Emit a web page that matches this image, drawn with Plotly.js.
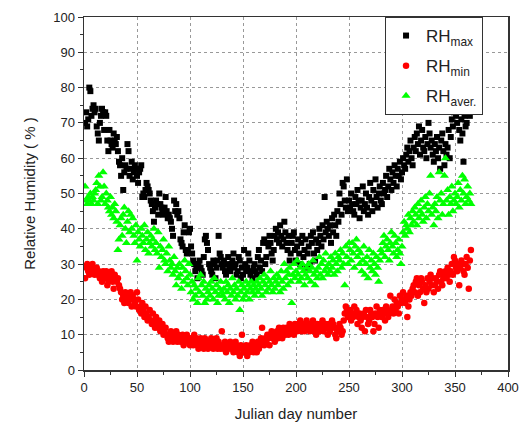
<!DOCTYPE html>
<html>
<head>
<meta charset="utf-8">
<script src="https://cdn.plot.ly/plotly-3.0.1.min.js"></script>
<style>html,body{margin:0;padding:0;background:#fff;}#chart{width:525px;height:424px;}</style>
</head>
<body>
<div id="chart"></div>
<script>
// Relative humidity values (%), one per Julian day 1..365
const rhMax = [
70,73,69,71,80,79,72,74,75,73,
74,69,67,65,70,72,74,73,68,73,
72,65,62,68,65,64,63,67,65,64,
66,62,59,58,55,60,51,56,58,57,
64,62,55,57,59,54,56,58,57,55,
53,56,57,58,49,50,49,51,53,52,
51,50,48,47,45,42,46,48,47,44,
50,47,46,45,44,46,49,45,43,44,
43,42,40,38,48,45,47,44,45,43,
37,36,35,39,41,34,33,34,39,40,
35,33,31,30,28,29,26,30,31,29,
28,27,32,37,38,36,34,30,29,28,
27,31,30,26,29,31,38,33,32,30,
29,31,28,27,30,32,29,28,30,31,
33,29,30,27,28,32,31,26,29,27,
34,30,28,29,33,31,27,28,26,29,
30,28,27,32,34,29,31,28,36,37,
30,32,36,35,38,36,33,31,34,38,
40,37,39,36,41,38,35,37,42,39,
36,34,38,31,33,36,38,39,34,31,
35,37,33,30,36,38,32,34,37,29,
33,35,30,38,36,39,33,31,37,34,
36,40,38,35,41,37,49,39,42,40,
38,41,36,43,39,44,41,38,45,42,
50,47,44,53,52,48,46,54,45,48,
46,50,47,45,44,49,47,51,48,43,
46,48,52,45,47,50,46,44,49,53,
48,45,51,47,54,49,46,50,52,48,
47,53,50,51,55,49,52,57,54,51,
56,53,58,55,52,57,55,59,54,56,
60,58,57,61,63,59,62,65,60,58,
63,66,62,67,64,69,61,65,68,63,
62,66,60,64,70,67,63,65,61,59,
64,62,66,60,63,57,65,67,62,58,
64,61,63,68,60,66,71,69,73,74,
72,70,74,68,65,71,67,59,72,69,
70,73,74,72,75
];
const rhMin = [
26,29,30,28,27,29,28,30,29,27,
28,29,27,28,26,27,25,28,27,26,
28,24,25,27,26,28,25,23,27,26,
25,26,24,23,22,20,21,19,22,20,
21,19,20,22,18,21,20,19,18,22,
20,17,18,16,19,17,15,18,16,14,
15,17,14,13,16,14,12,15,13,12,
14,11,12,13,10,11,12,10,9,8,
10,11,9,8,10,9,11,8,10,9,
8,9,10,7,9,8,10,9,8,7,
9,8,7,10,8,9,7,6,8,9,
7,8,6,9,8,7,6,8,7,9,
7,6,8,7,9,6,8,7,6,11,
7,6,8,5,7,6,7,8,6,7,
5,6,8,7,5,6,4,7,10,6,
5,6,7,4,6,5,7,6,8,5,
6,7,5,8,6,7,9,12,8,7,
9,8,10,9,7,10,11,9,10,8,
10,11,9,12,10,11,9,12,11,10,
12,11,10,13,12,11,12,10,13,12,
11,13,12,14,11,12,13,11,12,14,
13,12,11,13,12,14,11,12,10,13,
12,11,13,12,14,11,12,13,12,10,
13,11,12,14,13,12,10,9,11,12,
13,12,10,11,14,16,18,17,15,16,
17,14,16,15,18,16,17,13,15,16,
14,12,15,16,11,17,15,13,14,17,
16,15,11,13,16,18,15,12,17,16,
15,17,16,14,18,17,15,16,21,17,
18,16,20,17,19,18,16,21,19,20,
22,20,19,21,15,18,20,22,21,23,
24,22,25,26,21,24,22,26,25,23,
19,24,22,26,23,25,27,24,26,22,
24,26,25,23,27,28,25,24,26,27,
28,26,29,27,25,28,30,27,32,31,
29,28,30,24,29,31,30,28,27,30,
32,29,23,31,34
];
const rhAver = [
52,48,47,49,48,50,47,49,48,50,
51,53,47,55,52,48,49,56,52,47,
50,48,46,45,49,44,46,43,47,45,
42,34,37,41,43,38,44,46,40,36,
42,45,39,44,40,43,38,36,41,31,
39,37,35,40,38,36,41,34,37,39,
33,36,38,35,37,40,34,36,33,39,
29,35,32,34,37,31,30,33,28,35,
31,29,30,27,32,28,24,29,26,30,
27,23,29,25,31,28,26,24,30,27,
22,25,20,24,21,23,19,26,22,27,
24,21,25,19,23,20,22,24,21,25,
23,20,26,22,24,19,21,23,25,22,
21,23,20,25,22,24,19,23,21,26,
22,24,20,23,21,25,17,22,24,20,
23,21,25,22,24,20,23,25,22,24,
21,23,25,22,24,26,23,21,25,27,
24,22,26,23,25,28,24,22,26,23,
25,27,24,26,22,28,25,23,30,26,
28,24,27,29,25,19,27,30,26,28,
31,27,25,29,26,30,28,24,27,29,
26,30,28,25,29,31,27,24,28,26,
29,32,27,30,26,31,28,33,29,27,
30,28,32,29,31,27,33,30,28,32,
31,34,29,33,30,24,35,32,30,36,
34,31,36,33,29,35,37,32,34,30,
33,28,31,35,27,30,32,26,34,29,
31,28,33,30,27,32,29,25,31,34,
33,36,38,32,35,37,34,31,36,39,
35,33,38,36,32,34,37,33,30,35,
39,42,38,41,40,44,39,43,41,45,
42,46,44,41,47,43,45,48,44,42,
46,49,43,47,45,50,55,44,46,41,
47,45,49,43,56,48,50,44,47,55,
60,48,51,44,49,47,52,45,48,50,
47,49,53,46,51,48,55,50,54,47,
49,52,48,50,47
];
const days = rhMax.map((_, i) => i + 1);

const xTickVals = [0, 50, 100, 150, 200, 250, 300, 350, 400];
const yTickVals = [0, 10, 20, 30, 40, 50, 60, 70, 80, 90, 100];

const font = 'Liberation Sans, Arial, sans-serif';

const traces = [
  {x: days, y: rhMax, name: 'RH<sub>max</sub>', legendgroup: 'g1', type: 'scatter', mode: 'markers',
   marker: {symbol: 'square', size: 6, color: '#000000'}},
  {x: days, y: rhMin, name: 'RH<sub>min</sub>', legendgroup: 'g2', type: 'scatter', mode: 'markers',
   marker: {symbol: 'circle', size: 6.5, color: '#ff0000'}},
  {x: days, y: rhAver, name: 'RH<sub>aver.</sub>', legendgroup: 'g3', type: 'scatter', mode: 'markers',
   marker: {symbol: 'triangle-up', size: 8, color: '#00ff00'}}
];

const axisCommon = {
  showline: true, linecolor: '#333', linewidth: 1.5, mirror: true,
  ticks: 'outside', ticklen: 5, tickwidth: 1, tickcolor: '#333',
  showgrid: true, gridcolor: '#999', griddash: 'dot', gridwidth: 1,
  zeroline: false,
  tickfont: {family: font, size: 13, color: '#222'}
};

const layout = {
  width: 525, height: 424,
  margin: {l: 84, r: 17, t: 17, b: 54},
  paper_bgcolor: '#fff', plot_bgcolor: '#fff',
  showlegend: true,
  xaxis: Object.assign({}, axisCommon, {
    range: [0, 400], tickvals: xTickVals,
    minor: {dtick: 25, tick0: 0, ticks: 'outside', ticklen: 3, tickcolor: '#333', showgrid: false},
    title: {text: 'Julian day number', font: {family: font, size: 15, color: '#222'}, standoff: 14}
  }),
  yaxis: Object.assign({}, axisCommon, {
    range: [0, 100], tickvals: yTickVals,
    minor: {dtick: 5, tick0: 0, ticks: 'outside', ticklen: 3, tickcolor: '#333', showgrid: false},
    title: {text: 'Relative Humidity ( % )', font: {family: font, size: 15, color: '#222'}, standoff: 14}
  }),
  legend: {
    x: 0.71, y: 1, xanchor: 'left', yanchor: 'top',
    bgcolor: '#fff', bordercolor: '#333', borderwidth: 1,
    font: {family: font, size: 17, color: '#222'},
    traceorder: 'grouped',
    tracegroupgap: 5
  }
};

Plotly.newPlot('chart', traces, layout, {staticPlot: true, displayModeBar: false});
</script>
</body>
</html>
